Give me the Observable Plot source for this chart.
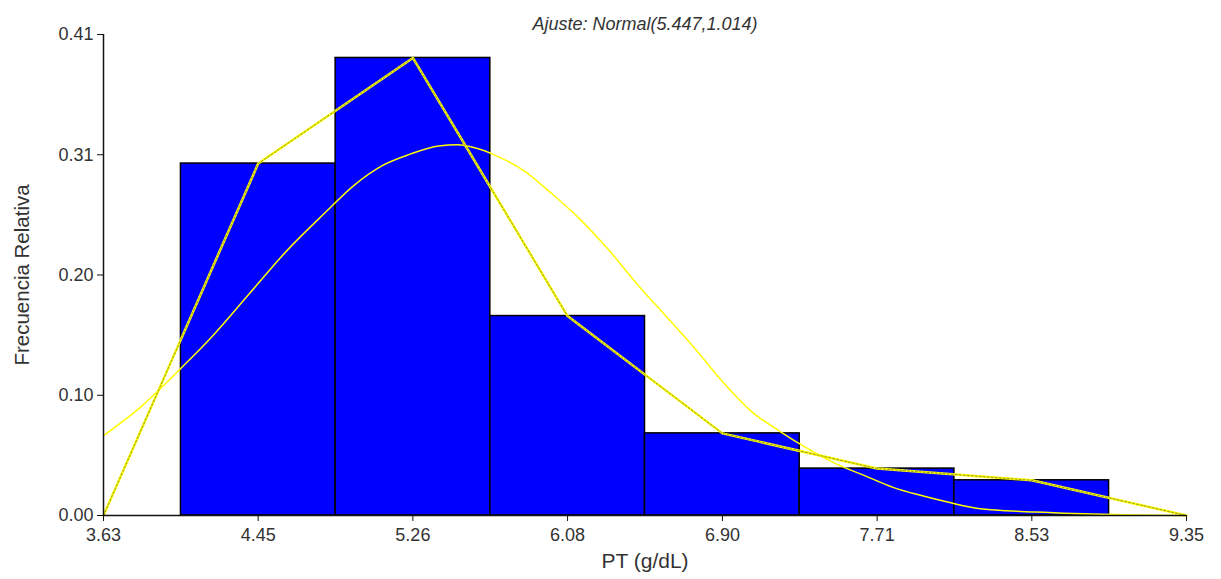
<!DOCTYPE html>
<html><head><meta charset="utf-8">
<script src="https://cdn.jsdelivr.net/npm/d3@7"></script>
<script src="https://cdn.jsdelivr.net/npm/@observablehq/plot@0.6"></script>
<style>body{margin:0;background:#fff;}</style>
</head><body><div id="chart"></div>
<script>
// Histogram bins (PT g/dL) and relative frequencies
const binStart = [4.039, 4.856, 5.673, 6.490, 7.307, 8.124];
const binEnd   = [4.856, 5.673, 6.490, 7.307, 8.124, 8.941];
const relFreq  = [0.30, 0.39, 0.17, 0.07, 0.04, 0.03];

// Frequency polygon (bin midpoints)
const polyX = [3.63, 4.447, 5.264, 6.081, 6.899, 7.716, 8.533, 9.35];
const polyY = [0, 0.30, 0.39, 0.17, 0.07, 0.04, 0.03, 0];

// Fitted normal curve
const normX = [3.63, 3.83, 3.93, 4.036, 4.2, 4.4, 4.6, 4.8, 4.95, 5.1, 5.25, 5.4, 5.5, 5.6, 5.7, 5.85, 6.0, 6.15, 6.3, 6.45, 6.6, 6.75, 6.9, 7.05, 7.2, 7.35, 7.5, 7.65, 7.8, 7.95, 8.1, 8.25, 8.4, 8.55, 8.7, 8.85, 9.03, 9.35];
const normY = [0.068, 0.093, 0.108, 0.125, 0.152, 0.189, 0.226, 0.258, 0.281, 0.298, 0.308, 0.315, 0.316, 0.313, 0.307, 0.294, 0.274, 0.252, 0.226, 0.197, 0.170, 0.143, 0.114, 0.089, 0.072, 0.057, 0.044, 0.034, 0.024, 0.017, 0.011, 0.006, 0.004, 0.003, 0.002, 0.0013, 0.0006, 0];

// Axis ticks
const xTickValues = [3.63, 4.447, 5.264, 6.081, 6.899, 7.716, 8.533, 9.35];
const xTickLabels = ["3.63", "4.45", "5.26", "6.08", "6.90", "7.71", "8.53", "9.35"];
const yTickValues = [0, 0.1025, 0.205, 0.3075, 0.41];
const yTickLabels = ["0.00", "0.10", "0.20", "0.31", "0.41"];

const titleText = "Ajuste: Normal(5.447,1.014)";
const xLabel = "PT (g/dL)";
const yLabel = "Frecuencia Relativa";

const bins = binStart.map((s, i) => ({x1: s, x2: binEnd[i], y: relFreq[i]}));
const poly = polyX.map((x, i) => ({x, y: polyY[i]}));
const norm = normX.map((x, i) => ({x, y: normY[i]}));

const chart = Plot.plot({
  width: 1221, height: 579,
  marginLeft: 103, marginRight: 35, marginTop: 34, marginBottom: 64,
  style: {fontFamily: "'Liberation Sans', Arial, sans-serif", fontSize: "18px", color: "#333", background: "#fff"},
  x: {domain: [3.63, 9.35]},
  y: {domain: [0, 0.41]},
  marks: [
    Plot.rectY(bins, {x1: "x1", x2: "x2", y: "y", fill: "#0000ff", stroke: "#000", strokeWidth: 1.5}),
    Plot.line(norm, {x: "x", y: "y", stroke: "#ffff00", strokeWidth: 1.5, curve: "monotone-x"}),
    Plot.line(poly, {x: "x", y: "y", stroke: "#ffff00", strokeWidth: 2.5}),
    Plot.line(poly, {x: "x", y: "y", stroke: "#6b6b3a", strokeWidth: 1, strokeDasharray: "2,2", strokeOpacity: 0.7}),
    Plot.ruleX([3.63], {stroke: "#111", strokeWidth: 1.5}),
    Plot.ruleY([0], {stroke: "#111", strokeWidth: 1.5}),
    Plot.axisX({ticks: xTickValues, tickFormat: d => xTickLabels[xTickValues.indexOf(d)], tickSize: 6, tickPadding: 7, label: null, stroke: "#111"}),
    Plot.axisY({ticks: yTickValues, tickFormat: d => yTickLabels[yTickValues.indexOf(d)], tickSize: 6, tickPadding: 4, label: null, stroke: "#111"}),
    Plot.text([titleText], {frameAnchor: "top", dy: -17, fontStyle: "italic", fontSize: 18, fill: "#333"}),
    Plot.text([xLabel], {frameAnchor: "bottom", dy: 52, fontSize: 21, fill: "#333"}),
    Plot.text([yLabel], {frameAnchor: "left", dx: -81, rotate: -90, textAnchor: "middle", fontSize: 20.5, fill: "#333"})
  ]
});
document.getElementById("chart").appendChild(chart);
</script>
</body></html>
